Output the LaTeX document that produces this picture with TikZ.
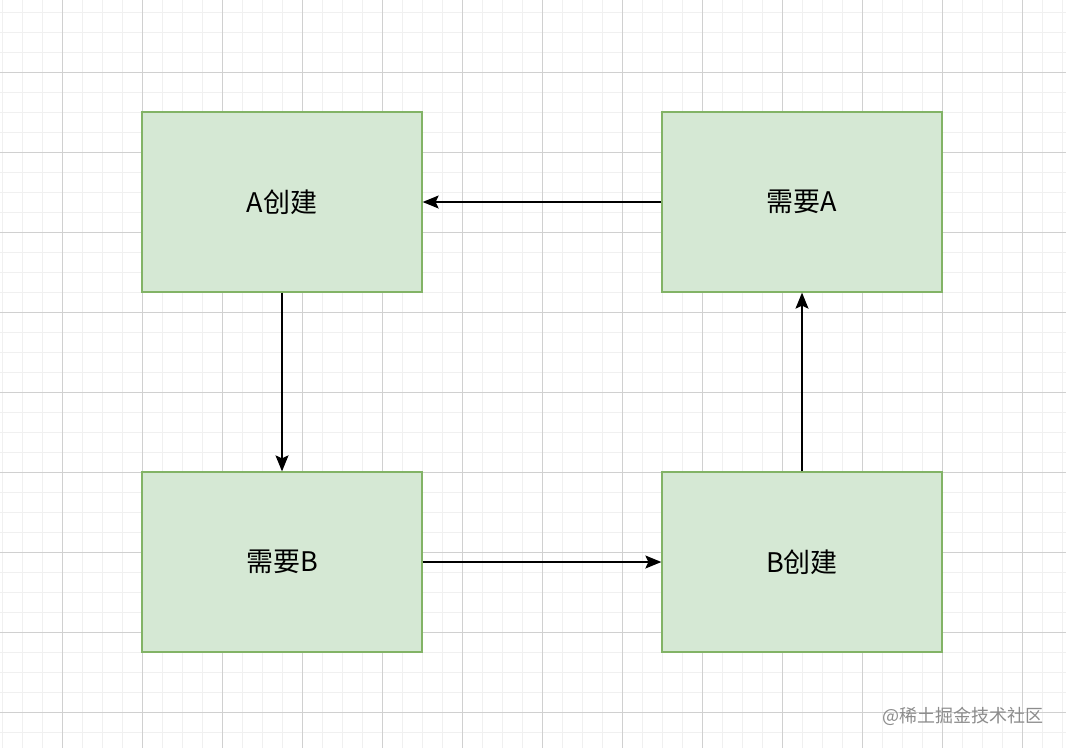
\documentclass[tikz,border=0pt]{standalone}
\usepackage{fontspec}
\newfontfamily\cjk{Noto Sans CJK SC}
\usetikzlibrary{arrows.meta}
\definecolor{boxfill}{HTML}{D5E8D4}
\definecolor{boxline}{HTML}{82B366}
\definecolor{minorgrid}{HTML}{F0F0F0}
\definecolor{majorgrid}{HTML}{D0D0D0}
\tikzset{
  state/.style={draw=boxline, fill=boxfill, line width=1.3pt, minimum width=280pt,
    minimum height=180pt, inner sep=0pt, font=\cjk\fontsize{27}{31}\selectfont},
  flow/.style={-{Stealth[length=16pt,width=13pt,inset=3pt]}, line width=1.4pt}
}
\begin{document}
\begin{tikzpicture}[x=1pt, y=-1pt]
\useasboundingbox (0,0) rectangle (1066,748);
\fill[white] (0,0) rectangle (1066,748);
% grid
\foreach \gx in {2,22,...,1062} \draw[minorgrid, line width=1pt] (\gx,0) -- (\gx,748);
\foreach \gy in {12,32,...,740} \draw[minorgrid, line width=1pt] (0,\gy) -- (1066,\gy);
\foreach \gx in {62,142,...,1062} \draw[majorgrid, line width=1pt] (\gx,0) -- (\gx,748);
\foreach \gy in {72,152,...,740} \draw[majorgrid, line width=1pt] (0,\gy) -- (1066,\gy);

\node[state] (acreate) at (282,202) {A创建};
\node[state] (needa) at (802,202) {需要A};
\node[state] (needb) at (282,562) {需要B};
\node[state] (bcreate) at (802,562) {B创建};

\draw[flow] (acreate) -- (needb);
\draw[flow] (needb) -- (bcreate);
\draw[flow] (bcreate) -- (needa);
\draw[flow] (needa) -- (acreate);

\node[text=black!45, font=\cjk\fontsize{18}{20}\selectfont, anchor=east] (mark) at (1047,716) {@稀土掘金技术社区};
\end{tikzpicture}
\end{document}
